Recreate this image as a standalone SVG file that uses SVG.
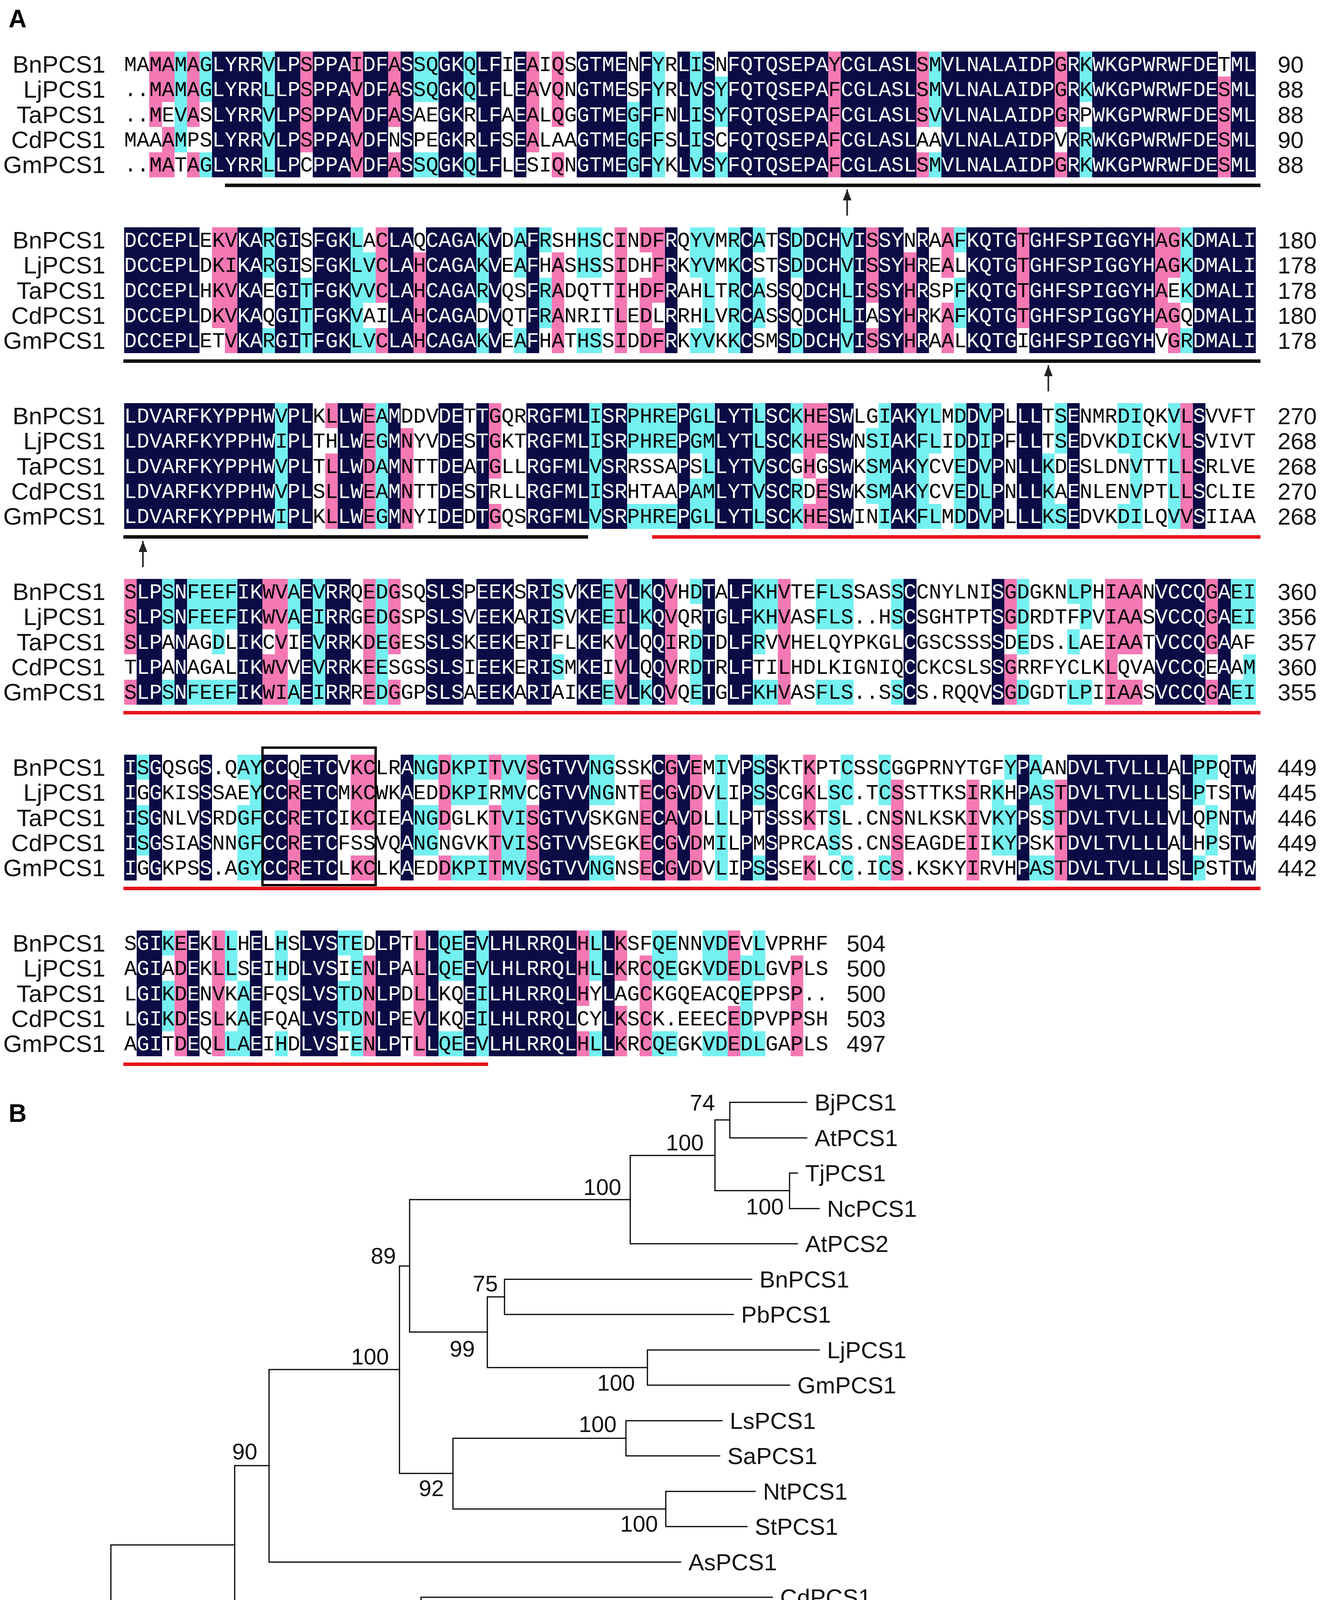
<svg xmlns="http://www.w3.org/2000/svg" width="3383" height="4596" viewBox="0 0 3383 4596">
<style>
.lab{font-family:"Liberation Sans",Arial,sans-serif;font-size:62px;fill:#111;text-anchor:end}
.num{font-family:"Liberation Sans",Arial,sans-serif;font-size:60px;fill:#111}
.nv{fill:#0b0b45}
.pk{fill:#f478b4}
.cy{fill:#74f0f0}
.ulk{fill:#111}
.ulr{fill:#e8141c}
.arr{stroke:#222;stroke-width:4;fill:none}
.br{stroke:#000;stroke-width:3;fill:none;stroke-linecap:square}
.tl{font-family:"Liberation Sans",Arial,sans-serif;font-size:60px;fill:#111}
.bs{font-family:"Liberation Sans",Arial,sans-serif;font-size:58px;fill:#111;text-anchor:end}
.pl{font-family:"Liberation Sans",Arial,sans-serif;font-size:64px;font-weight:bold;fill:#000}
.box{fill:none;stroke:#000;stroke-width:6}
</style>
<defs>
<marker id="ah" viewBox="0 0 28 22" refX="28" refY="11" markerWidth="28" markerHeight="22" markerUnits="userSpaceOnUse" orient="auto"><path d="M0 0L28 11L0 22z" fill="#222"/></marker>
<path id="nv1" d="M7 0h4v5h-4zM12 0h2v5h-2zM15 0h3v5h-3zM19 0h2v5h-2zM22 0h1v5h-1zM25 0h2v5h-2zM28 0h2v5h-2zM31 0h1v5h-1zM36 0h4v5h-4zM41 0h1v5h-1zM44 0h1v5h-1zM46 0h1v5h-1zM48 0h8v5h-8zM57 0h6v5h-6zM65 0h9v5h-9zM75 0h1v5h-1zM77 0h10v5h-10zM88 0h2v5h-2z"/>
<path id="nv2" d="M0 0h6v5h-6zM9 0h2v5h-2zM12 0h2v5h-2zM15 0h3v5h-3zM21 0h2v5h-2zM24 0h4v5h-4zM29 0h1v5h-1zM32 0h1v5h-1zM43 0h1v5h-1zM49 0h1v5h-1zM52 0h1v5h-1zM54 0h3v5h-3zM58 0h1v5h-1zM60 0h2v5h-2zM63 0h1v5h-1zM67 0h4v5h-4zM72 0h10v5h-10zM85 0h5v5h-5z"/>
<path id="nv3" d="M0 0h12v5h-12zM13 0h2v5h-2zM17 0h2v5h-2zM21 0h1v5h-1zM25 0h2v5h-2zM28 0h1v5h-1zM32 0h5v5h-5zM38 0h2v5h-2zM44 0h1v5h-1zM47 0h3v5h-3zM51 0h2v5h-2zM56 0h2v5h-2zM61 0h2v5h-2zM67 0h1v5h-1zM69 0h1v5h-1zM71 0h2v5h-2zM75 0h1v5h-1zM85 0h1v5h-1z"/>
<path id="nv4" d="M1 0h2v5h-2zM4 0h1v5h-1zM9 0h2v5h-2zM14 0h1v5h-1zM16 0h2v5h-2zM24 0h3v5h-3zM28 0h3v5h-3zM32 0h2v5h-2zM36 0h2v5h-2zM40 0h1v5h-1zM42 0h1v5h-1zM46 0h1v5h-1zM48 0h2v5h-2zM62 0h1v5h-1zM69 0h1v5h-1zM82 0h4v5h-4zM87 0h1v5h-1z"/>
<path id="nv5" d="M0 0h1v5h-1zM2 0h1v5h-1zM6 0h1v5h-1zM11 0h2v5h-2zM14 0h3v5h-3zM22 0h1v5h-1zM33 0h4v5h-4zM42 0h1v5h-1zM44 0h1v5h-1zM49 0h1v5h-1zM51 0h1v5h-1zM71 0h1v5h-1zM75 0h8v5h-8zM84 0h1v5h-1zM88 0h2v5h-2z"/>
<path id="nv6" d="M1 0h2v5h-2zM5 0h1v5h-1zM10 0h1v5h-1zM14 0h3v5h-3zM20 0h2v5h-2zM24 0h1v5h-1zM27 0h1v5h-1zM29 0h7v5h-7zM38 0h1v5h-1z"/>
<g id="sq1" font-family="Liberation Mono, Courier New, monospace" font-size="53.66">
<text x="318" y="49.7">MAMAMAGLYRRVLPSPPAIDFASSQGKQLFIEAIQSGTMENFYRLISNFQTQSEPAYCGLASLSMVLNALAIDPGRKWKGPWRWFDETML</text>
<text x="318" y="114.1">..MAMAGLYRRLLPSPPAVDFASSQGKQLFLEAVQNGTMESFYRLVSYFQTQSEPAFCGLASLSMVLNALAIDPGRKWKGPWRWFDESML</text>
<text x="318" y="178.5">..MEVASLYRRVLPSPPAVDFASAEGKRLFAEALQGGTMEGFFNLISYFQTQSEPAFCGLASLSVVLNALAIDPGRPWKGPWRWFDESML</text>
<text x="318" y="242.9">MAAAMPSLYRRVLPSPPAVDFNSPEGKRLFSEALAAGTMEGFFSLISCFQTQSEPAFCGLASLAAVLNALAIDPVRRWKGPWRWFDESML</text>
<text x="318" y="307.3">..MATAGLYRRLLPCPPAVDFASSQGKQLFLESIQNGTMEGFYKLVSYFQTQSEPAFCGLASLSMVLNALAIDPGRKWKGPWRWFDESML</text>
</g>
<g id="sq2" font-family="Liberation Mono, Courier New, monospace" font-size="53.66">
<text x="318" y="49.7">DCCEPLEKVKARGISFGKLACLAQCAGAKVDAFRSHHSCINDFRQYVMRCATSDDCHVISSYNRAAFKQTGTGHFSPIGGYHAGKDMALI</text>
<text x="318" y="114.1">DCCEPLDKIKARGISFGKLVCLAHCAGAKVEAFHASHSSIDHFRKYVMKCSTSDDCHVISSYHREALKQTGTGHFSPIGGYHAGKDMALI</text>
<text x="318" y="178.5">DCCEPLHKVKAEGITFGKVVCLAHCAGARVQSFRADQTTIHDFRAHLTRCASSQDCHLISSYHRSPFKQTGTGHFSPIGGYHAEKDMALI</text>
<text x="318" y="242.9">DCCEPLDKVKAQGITFGKVAILAHCAGADVQTFRANRITLEDLRRHLVRCASSQDCHLIASYHRKAFKQTGTGHFSPIGGYHAGQDMALI</text>
<text x="318" y="307.3">DCCEPLETVKARGITFGKLVCLAHCAGAKVEAFHATHSSIDDFRKYVKKCSMSDDCHVISSYHRAALKQTGIGHFSPIGGYHVGRDMALI</text>
</g>
<g id="sq3" font-family="Liberation Mono, Courier New, monospace" font-size="53.66">
<text x="318" y="49.7">LDVARFKYPPHWVPLKLLWEAMDDVDETTGQRRGFMLISRPHREPGLLYTLSCKHESWLGIAKYLMDDVPLLLTSENMRDIQKVLSVVFT</text>
<text x="318" y="114.1">LDVARFKYPPHWIPLTHLWEGMNYVDESTGKTRGFMLISRPHREPGMLYTLSCKHESWNSIAKFLIDDIPFLLTSEDVKDICKVLSVIVT</text>
<text x="318" y="178.5">LDVARFKYPPHWVPLTLLWDAMNTTDEATGLLRGFMLVSRRSSAPSLLYTVSCGHGSWKSMAKYCVEDVPNLLKDESLDNVTTLLSRLVE</text>
<text x="318" y="242.9">LDVARFKYPPHWVPLSLLWEAMNTTDESTRLLRGFMLISRHTAAPAMLYTVSCRDESWKSMAKYCVEDLPNLLKAENLENVPTLLSCLIE</text>
<text x="318" y="307.3">LDVARFKYPPHWIPLKLLWEGMNYIDEDTGQSRGFMLVSRPHREPGLLYTLSCKHESWINIAKFLMDDVPLLLKSEDVKDILQVVSIIAA</text>
</g>
<g id="sq4" font-family="Liberation Mono, Courier New, monospace" font-size="53.66">
<text x="318" y="49.7">SLPSNFEEFIKWVAEVRRQEDGSQSLSPEEKSRISVKEEVLKQVHDTALFKHVTEFLSSASSCCNYLNISGDGKNLPHIAANVCCQGAEI</text>
<text x="318" y="114.1">SLPSNFEEFIKWVAEIRRGEDGSPSLSVEEKARISVKEEILKQVQRTGLFKHVASFLS..HSCSGHTPTSGDRDTFPVIAASVCCQGAEI</text>
<text x="318" y="178.5">SLPANAGDLIKCVIEVRRKDEGESSLSKEEKERIFLKEKVLQQIRDTDLFRVVHELQYPKGLCGSCSSSSDEDS.LAEIAATVCCQGAAF</text>
<text x="318" y="242.9">TLPANAGALIKWVVEVRRKEESGSSLSIEEKERISMKEIVLQQVRDTRLFTILHDLKIGNIQCCKCSLSSGRRFYCLKLQVAVCCQEAAM</text>
<text x="318" y="307.3">SLPSNFEEFIKWIAEIRRREDGGPSLSAEEKARIAIKEEVLKQVQETGLFKHVASFLS..SSCS.RQQVSGDGDTLPIIAASVCCQGAEI</text>
</g>
<g id="sq5" font-family="Liberation Mono, Courier New, monospace" font-size="53.66">
<text x="318" y="49.7">ISGQSGS.QAYCCQETCVKCLRANGDKPITVVSGTVVNGSSKCGVEMIVPSSKTKPTCSSCGGPRNYTGFYPAANDVLTVLLLALPPQTW</text>
<text x="318" y="114.1">IGGKISSSAEYCCRETCMKCWKAEDDKPIRMVCGTVVNGNTECGVDVLIPSSCGKLSC.TCSSTTKSIRKHPASTDVLTVLLLSLPTSTW</text>
<text x="318" y="178.5">ISGNLVSRDGFCCRETCIKCIEANGDGLKTVISGTVVSKGNECAVDLLLPTSSSKTSL.CNSNLKSKIVKYPSSTDVLTVLLLVLQPNTW</text>
<text x="318" y="242.9">ISGSIASNNGFCCRETCFSSVQANGNGVKTVISGTVVSEGKECGVDMILPMSPRCASS.CNSEAGDEIIKYPSKTDVLTVLLLALHPSTW</text>
<text x="318" y="307.3">IGGKPSS.AGYCCRETCLKCLKAEDDKPITMVSGTVVNGNSECGVDVLIPSSSEKLCC.ICS.KSKYIRVHPASTDVLTVLLLSLPSTTW</text>
</g>
<g id="sq6" font-family="Liberation Mono, Courier New, monospace" font-size="53.66">
<text x="318" y="49.7">SGIKEEKLLHELHSLVSTEDLPTLLQEEVLHLRRQLHLLKSFQENNVDEVLVPRHF</text>
<text x="318" y="114.1">AGIADEKLLSEIHDLVSIENLPALLQEEVLHLRRQLHLLKRCQEGKVDEDLGVPLS</text>
<text x="318" y="178.5">LGIKDENVKAEFQSLVSTDNLPDLLKQEILHLRRQLHYLAGCKGQEACQEPPSP..</text>
<text x="318" y="242.9">LGIKDESLKAEFQALVSTDNLPEVLKQEILHLRRQLCYLKSCK.EEECEDPVPPSH</text>
<text x="318" y="307.3">AGITDEQLLAEIHDLVSIENLPTLLQEEVLHLRRQLHLLKRCQEGKVDEDLGAPLS</text>
</g>
<mask id="mk1" maskUnits="userSpaceOnUse" x="0" y="-60" width="3383" height="460"><use href="#nv1" fill="#fff" transform="translate(318,0) scale(32.2,64.4)"/></mask>
<mask id="mk2" maskUnits="userSpaceOnUse" x="0" y="-60" width="3383" height="460"><use href="#nv2" fill="#fff" transform="translate(318,0) scale(32.2,64.4)"/></mask>
<mask id="mk3" maskUnits="userSpaceOnUse" x="0" y="-60" width="3383" height="460"><use href="#nv3" fill="#fff" transform="translate(318,0) scale(32.2,64.4)"/></mask>
<mask id="mk4" maskUnits="userSpaceOnUse" x="0" y="-60" width="3383" height="460"><use href="#nv4" fill="#fff" transform="translate(318,0) scale(32.2,64.4)"/></mask>
<mask id="mk5" maskUnits="userSpaceOnUse" x="0" y="-60" width="3383" height="460"><use href="#nv5" fill="#fff" transform="translate(318,0) scale(32.2,64.4)"/></mask>
<mask id="mk6" maskUnits="userSpaceOnUse" x="0" y="-60" width="3383" height="460"><use href="#nv6" fill="#fff" transform="translate(318,0) scale(32.2,64.4)"/></mask>
<g id="labels">
<text class="lab" x="270" y="53.7">BnPCS1</text>
<text class="lab" x="270" y="118.1">LjPCS1</text>
<text class="lab" x="270" y="182.5">TaPCS1</text>
<text class="lab" x="270" y="246.9">CdPCS1</text>
<text class="lab" x="270" y="311.3">GmPCS1</text>
</g>
</defs>
<rect width="3383" height="4596" fill="#fff"/>
<text class="pl" x="22" y="70">A</text>

<g id="block1" transform="translate(0,132)">
<g transform="translate(318,0) scale(32.2,64.4)" shape-rendering="crispEdges">
<use href="#nv1" class="nv"/>
<path class="pk" d="M2 0h1v3h-1zM2 4h1v1h-1zM3 0h1v2h-1zM3 3h1v2h-1zM5 0h1v3h-1zM5 4h1v1h-1zM14 0h1v4h-1zM18 0h1v5h-1zM21 0h1v3h-1zM21 4h1v1h-1zM32 0h1v4h-1zM34 0h1v3h-1zM34 4h1v1h-1zM56 0h1v5h-1zM63 0h1v3h-1zM63 4h1v1h-1zM74 0h1v3h-1zM74 4h1v1h-1zM87 1h1v4h-1z"/>
<path class="cy" d="M4 0h1v4h-1zM6 0h1v2h-1zM6 4h1v1h-1zM11 0h1v5h-1zM23 0h2v2h-2zM23 4h2v1h-2zM27 0h1v2h-1zM27 4h1v1h-1zM40 2h1v3h-1zM42 0h1v5h-1zM45 0h1v5h-1zM47 1h1v2h-1zM47 4h1v1h-1zM64 0h1v3h-1zM64 4h1v1h-1zM76 0h1v2h-1zM76 3h1v2h-1z"/>
</g>
<use href="#labels"/>
<use href="#sq1" fill="#000"/>
<use href="#sq1" fill="#fff" mask="url(#mk1)"/>
<g class="num"><text x="3272" y="53.7">90</text><text x="3272" y="118.1">88</text><text x="3272" y="182.5">88</text><text x="3272" y="246.9">90</text><text x="3272" y="311.3">88</text></g>
<rect class="ulk" x="576" y="338" width="2652" height="9"/>
<line class="arr" x1="2169.5" y1="420" x2="2169.5" y2="353" marker-end="url(#ah)"/>
</g>

<g id="block2" transform="translate(0,582)">
<g transform="translate(318,0) scale(32.2,64.4)" shape-rendering="crispEdges">
<use href="#nv2" class="nv"/>
<path class="pk" d="M7 0h2v4h-2zM8 4h1v1h-1zM20 0h1v3h-1zM20 4h1v1h-1zM23 1h1v4h-1zM34 1h1v4h-1zM39 0h1v5h-1zM41 0h1v1h-1zM41 2h1v3h-1zM42 0h1v3h-1zM42 4h1v1h-1zM59 0h1v3h-1zM59 4h1v1h-1zM62 1h1v4h-1zM65 0h1v2h-1zM65 3h1v2h-1zM71 0h1v4h-1zM82 0h1v4h-1zM83 0h1v2h-1zM83 3h1v2h-1z"/>
<path class="cy" d="M11 0h1v2h-1zM11 4h1v1h-1zM14 2h1v3h-1zM18 0h1v5h-1zM19 1h1v2h-1zM19 4h1v1h-1zM28 0h1v3h-1zM28 4h1v1h-1zM31 0h1v2h-1zM31 4h1v1h-1zM33 0h1v1h-1zM33 2h1v2h-1zM36 0h2v2h-2zM36 4h2v1h-2zM45 0h1v2h-1zM45 4h1v1h-1zM46 0h1v5h-1zM48 0h1v5h-1zM50 0h1v1h-1zM50 2h1v2h-1zM53 0h1v2h-1zM53 4h1v1h-1zM57 0h1v5h-1zM66 0h1v1h-1zM66 2h1v2h-1zM84 0h1v3h-1zM84 4h1v1h-1z"/>
</g>
<use href="#labels"/>
<use href="#sq2" fill="#000"/>
<use href="#sq2" fill="#fff" mask="url(#mk2)"/>
<g class="num"><text x="3272" y="53.7">180</text><text x="3272" y="118.1">178</text><text x="3272" y="182.5">178</text><text x="3272" y="246.9">180</text><text x="3272" y="311.3">178</text></g>
<rect class="ulk" x="316" y="338" width="2912" height="9"/>
<line class="arr" x1="2684.7" y1="420" x2="2684.7" y2="353" marker-end="url(#ah)"/>
</g>

<g id="block3" transform="translate(0,1032)">
<g transform="translate(318,0) scale(32.2,64.4)" shape-rendering="crispEdges">
<use href="#nv3" class="nv"/>
<path class="pk" d="M16 0h1v1h-1zM16 2h1v3h-1zM19 0h1v5h-1zM22 1h1v4h-1zM29 0h1v3h-1zM29 4h1v1h-1zM54 0h1v3h-1zM54 4h1v1h-1zM55 0h1v2h-1zM55 3h1v2h-1zM84 0h1v5h-1z"/>
<path class="cy" d="M12 0h1v5h-1zM20 0h1v5h-1zM37 0h1v5h-1zM40 0h4v2h-4zM40 4h4v1h-4zM45 0h1v2h-1zM45 3h1v2h-1zM46 0h1v5h-1zM50 0h1v5h-1zM53 0h1v2h-1zM53 3h1v2h-1zM59 1h1v3h-1zM60 0h1v5h-1zM63 0h1v5h-1zM64 0h1v2h-1zM64 4h1v1h-1zM66 0h1v5h-1zM68 0h1v5h-1zM73 2h1v3h-1zM74 0h1v2h-1zM74 4h1v1h-1zM79 0h1v2h-1zM79 4h1v1h-1zM80 0h1v5h-1zM83 0h1v5h-1z"/>
</g>
<use href="#labels"/>
<use href="#sq3" fill="#000"/>
<use href="#sq3" fill="#fff" mask="url(#mk3)"/>
<g class="num"><text x="3272" y="53.7">270</text><text x="3272" y="118.1">268</text><text x="3272" y="182.5">268</text><text x="3272" y="246.9">270</text><text x="3272" y="311.3">268</text></g>
<rect class="ulk" x="316" y="338" width="1190" height="9"/>
<rect class="ulr" x="1670" y="338" width="1558" height="9"/>
<line class="arr" x1="366" y1="420" x2="366" y2="353" marker-end="url(#ah)"/>
</g>

<g id="block4" transform="translate(0,1482)">
<g transform="translate(318,0) scale(32.2,64.4)" shape-rendering="crispEdges">
<use href="#nv4" class="nv"/>
<path class="pk" d="M0 0h1v3h-1zM0 4h1v1h-1zM11 0h1v2h-1zM11 3h1v2h-1zM12 0h1v5h-1zM19 0h1v5h-1zM21 0h1v3h-1zM21 4h1v1h-1zM39 0h1v5h-1zM43 0h1v5h-1zM52 0h1v5h-1zM70 0h1v2h-1zM70 3h1v2h-1zM78 0h1v5h-1zM79 0h2v3h-2zM79 4h2v1h-2zM86 0h1v3h-1zM86 4h1v1h-1z"/>
<path class="cy" d="M3 0h1v2h-1zM3 4h1v1h-1zM5 0h4v2h-4zM5 4h4v1h-4zM7 2h1v1h-1zM13 0h1v2h-1zM13 4h1v1h-1zM15 0h1v5h-1zM20 0h1v5h-1zM34 0h1v2h-1zM34 3h1v1h-1zM38 0h1v2h-1zM38 4h1v1h-1zM41 0h1v2h-1zM41 4h1v1h-1zM45 0h1v1h-1zM45 2h1v3h-1zM50 0h1v3h-1zM50 4h1v1h-1zM51 0h1v2h-1zM51 4h1v1h-1zM55 0h3v2h-3zM55 4h3v1h-3zM61 0h1v2h-1zM61 4h1v1h-1zM71 0h1v3h-1zM71 4h1v1h-1zM75 0h1v1h-1zM75 2h1v1h-1zM75 4h1v1h-1zM76 0h1v2h-1zM76 4h1v1h-1zM88 0h1v2h-1zM88 4h1v1h-1zM89 0h1v2h-1zM89 3h1v2h-1z"/>
</g>
<use href="#labels"/>
<use href="#sq4" fill="#000"/>
<use href="#sq4" fill="#fff" mask="url(#mk4)"/>
<g class="num"><text x="3272" y="53.7">360</text><text x="3272" y="118.1">356</text><text x="3272" y="182.5">357</text><text x="3272" y="246.9">360</text><text x="3272" y="311.3">355</text></g>
<rect class="ulr" x="316" y="338" width="2912" height="9"/>
</g>

<g id="block5" transform="translate(0,1932)">
<g transform="translate(318,0) scale(32.2,64.4)" shape-rendering="crispEdges">
<use href="#nv5" class="nv"/>
<path class="pk" d="M13 1h1v4h-1zM18 0h2v3h-2zM18 4h2v1h-2zM25 0h1v3h-1zM25 4h1v1h-1zM29 0h1v1h-1zM29 2h1v3h-1zM32 0h1v1h-1zM32 2h1v3h-1zM41 1h1v4h-1zM43 0h1v5h-1zM45 0h1v5h-1zM54 0h1v3h-1zM54 4h1v1h-1zM61 1h1v4h-1zM67 1h1v4h-1zM74 1h1v4h-1z"/>
<path class="cy" d="M1 0h1v1h-1zM1 2h1v2h-1zM9 0h1v1h-1zM9 2h1v3h-1zM10 0h1v5h-1zM23 0h2v1h-2zM23 2h2v2h-2zM26 0h3v2h-3zM26 4h3v1h-3zM30 0h2v5h-2zM37 0h2v2h-2zM37 4h2v1h-2zM47 0h1v5h-1zM50 0h1v2h-1zM50 4h1v1h-1zM56 1h1v3h-1zM57 0h1v2h-1zM57 4h1v1h-1zM60 0h1v2h-1zM60 4h1v1h-1zM69 1h1v3h-1zM70 0h1v1h-1zM70 2h1v2h-1zM72 0h1v2h-1zM72 4h1v1h-1zM73 1h1v2h-1zM73 4h1v1h-1zM85 0h1v2h-1zM85 4h1v1h-1zM86 0h1v1h-1zM86 2h1v2h-1z"/>
</g>
<use href="#labels"/>
<use href="#sq5" fill="#000"/>
<use href="#sq5" fill="#fff" mask="url(#mk5)"/>
<g class="num"><text x="3272" y="53.7">449</text><text x="3272" y="118.1">445</text><text x="3272" y="182.5">446</text><text x="3272" y="246.9">449</text><text x="3272" y="311.3">442</text></g>
<rect class="ulr" x="316" y="338" width="2912" height="9"/>
<rect class="box" x="672.2" y="-18" width="289.8" height="352"/>
</g>

<g id="block6" transform="translate(0,2382)">
<g transform="translate(318,0) scale(32.2,64.4)" shape-rendering="crispEdges">
<use href="#nv6" class="nv"/>
<path class="pk" d="M4 0h1v5h-1zM7 0h1v5h-1zM19 1h1v4h-1zM23 0h1v5h-1zM36 0h1v3h-1zM36 4h1v1h-1zM39 0h1v2h-1zM39 3h1v2h-1zM41 1h1v4h-1zM48 0h1v2h-1zM48 3h1v2h-1zM53 1h1v4h-1z"/>
<path class="cy" d="M3 0h1v1h-1zM3 2h1v2h-1zM8 0h1v2h-1zM8 4h1v1h-1zM9 2h1v3h-1zM12 0h1v2h-1zM12 4h1v1h-1zM17 0h1v1h-1zM17 2h1v2h-1zM18 0h1v5h-1zM25 0h2v2h-2zM25 4h2v1h-2zM28 0h1v5h-1zM37 0h1v2h-1zM37 4h1v1h-1zM42 0h2v2h-2zM42 4h2v1h-2zM46 0h2v2h-2zM46 4h2v1h-2zM49 1h1v4h-1zM50 0h1v2h-1zM50 4h1v1h-1z"/>
</g>
<use href="#labels"/>
<use href="#sq6" fill="#000"/>
<use href="#sq6" fill="#fff" mask="url(#mk6)"/>
<g class="num"><text x="2168" y="53.7">504</text><text x="2168" y="118.1">500</text><text x="2168" y="182.5">500</text><text x="2168" y="246.9">503</text><text x="2168" y="311.3">497</text></g>
<rect class="ulr" x="316" y="338" width="934" height="9"/>
</g>

<text class="pl" x="22" y="2872">B</text>
<g id="connectors" class="br">
<path d="M284 3955V4407M284 3955H601M284 4407H1456"/>
<path d="M601 3752V4157M601 3752H689M601 4157H1078"/>
<path d="M689 3506V3999M689 3506H1023M689 3999H1743"/>
<path d="M1023 3241V3772M1023 3241H1049M1023 3772H1160"/>
<path d="M1049 3071V3410M1049 3071H1614M1049 3410H1248"/>
<path d="M1614 2958V3184M1614 2958H1831M1614 3184H2042"/>
<path d="M1831 2867V3048M1831 2867H1869M1831 3048H2022"/>
<path d="M1869 2822V2913M1869 2822H2066M1869 2913H2066"/>
<path d="M2022 3003V3094M2022 3003H2042M2022 3094H2098"/>
<path d="M1248 3320V3501M1248 3320H1292M1248 3501H1658"/>
<path d="M1292 3275V3365M1292 3275H1925M1292 3365H1878"/>
<path d="M1658 3456V3546M1658 3456H2098M1658 3546H2022"/>
<path d="M1160 3682V3863M1160 3682H1603M1160 3863H1705"/>
<path d="M1603 3637V3727M1603 3637H1849M1603 3727H1843"/>
<path d="M1705 3818V3908M1705 3818H1934M1705 3908H1913"/>
<path d="M1078 4089V4225M1078 4089H1978M1078 4225H1125"/>
<path d="M1125 4180V4270M1125 4180H1735M1125 4270H2300"/>
<path d="M1456 4363V4451M1456 4363H2300M1456 4451H1963"/>
<path d="M533 4506H771M533 4506V4490M771 4506V4490"/>
</g>
<g id="leaves" class="tl">
<g id="leaf-BjPCS1"><text x="2086" y="2843">BjPCS1</text></g>
<g id="leaf-AtPCS1"><text x="2086" y="2934">AtPCS1</text></g>
<g id="leaf-TjPCS1"><text x="2062" y="3024">TjPCS1</text></g>
<g id="leaf-NcPCS1"><text x="2118" y="3115">NcPCS1</text></g>
<g id="leaf-AtPCS2"><text x="2062" y="3205">AtPCS2</text></g>
<g id="leaf-BnPCS1"><text x="1945" y="3296">BnPCS1</text></g>
<g id="leaf-PbPCS1"><text x="1898" y="3386">PbPCS1</text></g>
<g id="leaf-LjPCS1"><text x="2118" y="3477">LjPCS1</text></g>
<g id="leaf-GmPCS1"><text x="2042" y="3567">GmPCS1</text></g>
<g id="leaf-LsPCS1"><text x="1869" y="3658">LsPCS1</text></g>
<g id="leaf-SaPCS1"><text x="1863" y="3748">SaPCS1</text></g>
<g id="leaf-NtPCS1"><text x="1954" y="3839">NtPCS1</text></g>
<g id="leaf-StPCS1"><text x="1933" y="3929">StPCS1</text></g>
<g id="leaf-AsPCS1"><text x="1763" y="4020">AsPCS1</text></g>
<g id="leaf-CdPCS1"><text x="1998" y="4110">CdPCS1</text></g>
<g id="leaf-TaPCS1"><text x="1755" y="4201">TaPCS1</text></g>
<g id="leaf-OsPCS1"><text x="2320" y="4291">OsPCS1</text></g>
<g id="leaf-PvPCS1"><text x="2320" y="4384">PvPCS1</text></g>
<g id="leaf-AyPCS1"><text x="1983" y="4472">AyPCS1</text></g>
</g>
<g id="bootstrap" class="bs">
<g id="n638"><text x="1831" y="2843">74</text></g>
<g id="n625"><text x="1802" y="2945">100</text></g>
<g id="n551"><text x="1591" y="3059">100</text></g>
<g id="n690"><text x="2007" y="3109">100</text></g>
<g id="n358"><text x="1014" y="3235">89</text></g>
<g id="n441"><text x="1275" y="3306">75</text></g>
<g id="n426"><text x="1216" y="3473">99</text></g>
<g id="n349"><text x="996" y="3493">100</text></g>
<g id="n566"><text x="1626" y="3560">100</text></g>
<g id="n235"><text x="659" y="3736">90</text></g>
<g id="n547"><text x="1579" y="3666">100</text></g>
<g id="n396"><text x="1137" y="3830">92</text></g>
<g id="n582"><text x="1685" y="3921">100</text></g>
<g id="n368"><text x="1052" y="4220">100</text></g>
<g id="n384"><text x="1105" y="4287">57</text></g>
<g id="n497"><text x="1415" y="4478">100</text></g>
</g>
<text class="tl" x="652" y="4583" text-anchor="middle">0.05</text>
</svg>
